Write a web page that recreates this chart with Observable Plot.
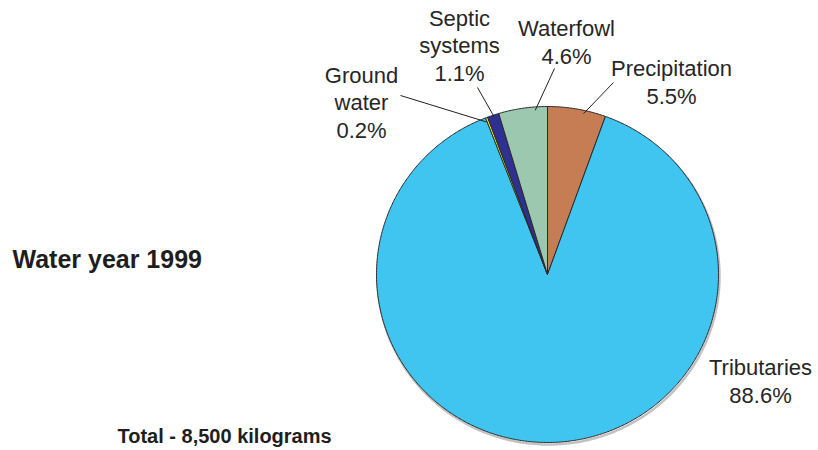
<!DOCTYPE html>
<html>
<head>
<meta charset="utf-8">
<script src="https://cdn.jsdelivr.net/npm/d3@7"></script>
<script src="https://cdn.jsdelivr.net/npm/@observablehq/plot@0.6"></script>
<style>
  html, body { margin: 0; padding: 0; background: #fff; }
  #chart { width: 818px; height: 450px; }
</style>
</head>
<body>
<div id="chart"></div>
<script>
// ---- Data (clockwise from 12 o'clock) ----
const sources = ["Precipitation", "Tributaries", "Ground water", "Septic systems", "Waterfowl"];
const percents = [5.5, 88.6, 0.2, 1.1, 4.6];
const labelText = ["Precipitation\n5.5%", "Tributaries\n88.6%", "Ground\nwater\n0.2%", "Septic\nsystems\n1.1%", "Waterfowl\n4.6%"];
const colors = ["#C77D53", "#40C4F0", "#FFF200", "#2E3192", "#9CC8B0"];
const title = "Water year 1999";
const totalNote = "Total - 8,500 kilograms";

// ---- Layout (pixels) ----
const W = 818, H = 450;
const cx = 547, cy = 274, rx = 171, ry = 168;
// label placement: text x, last-line baseline y, leader-line outer end, inner angle (deg) & radius factor
const labelLayout = {
  "Precipitation": {tx: 671, ty: 103, lx: 613, ly: 82, a: 12.4, r: 0.98},
  "Tributaries":   {tx: 760, ty: 402},
  "Ground water":  {tx: 361, ty: 137, lx: 400, ly: 95, a: -21.4, r: 0.975},
  "Septic systems":{tx: 459, ty: 80,  lx: 477, ly: 87, a: -18.4, r: 0.99},
  "Waterfowl":     {tx: 566, ty: 63,  lx: 554, ly: 68, a: -4.2, r: 0.98}
};

const px = (deg, f = 1) => cx + rx * f * Math.sin(deg * Math.PI / 180);
const py = (deg, f = 1) => cy - ry * f * Math.cos(deg * Math.PI / 180);

const arcs = d3.pie().sort(null).value(d => d.value)(sources.map((s, i) => ({name: s, value: percents[i]})));
const slicePts = [];
for (const a of arcs) {
  const s = a.startAngle * 180 / Math.PI, e = a.endAngle * 180 / Math.PI;
  slicePts.push({name: a.data.name, x: cx, y: cy});
  const n = Math.max(2, Math.ceil((e - s) / 0.5));
  for (let k = 0; k <= n; k++) {
    const t = s + (e - s) * k / n;
    slicePts.push({name: a.data.name, x: px(t), y: py(t)});
  }
  slicePts.push({name: a.data.name, x: cx, y: cy});
}
const ring = d3.range(0, 361, 1).map(t => ({x: px(t), y: py(t)}));

const labels = sources.map((s, i) => ({name: s, text: labelText[i], ...labelLayout[s]}));
const leaders = labels.filter(d => d.lx !== undefined).map(d => ({
  x1: d.lx, y1: d.ly, x2: px(d.a, d.r), y2: py(d.a, d.r)
}));

const font = "'Liberation Sans', Arial, Helvetica, sans-serif";

const chart = Plot.plot({
  width: W, height: H,
  margin: 0,
  x: {domain: [0, W], range: [0, W], axis: null},
  y: {domain: [0, H], range: [0, H], axis: null},
  color: {domain: sources, range: colors, legend: false},
  style: {fontFamily: font, background: "#fff"},
  marks: [
    // soft shadow of the pie outline
    Plot.line(ring, {x: "x", y: "y", stroke: "#999", strokeWidth: 2.5, strokeOpacity: 0.6, dx: 1, dy: 2}),
    Plot.line(slicePts, {x: "x", y: "y", z: "name", fill: "name", stroke: "#2a2a2a", strokeWidth: 1, strokeLinejoin: "round"}),
    Plot.link(leaders, {x1: "x1", y1: "y1", x2: "x2", y2: "y2", stroke: "#222", strokeWidth: 1}),
    Plot.text(labels, {x: "tx", y: "ty", text: "text", lineAnchor: "bottom", lineHeight: 1.23, fontSize: 22, fill: "#262626", textAnchor: "middle"}),
    Plot.text([title], {x: () => 12, y: () => 267, text: d => d, textAnchor: "start", lineAnchor: "bottom", fontSize: 25, fontWeight: "bold", fill: "#1e1e1e"}),
    Plot.text([totalNote], {x: () => 117, y: () => 442, text: d => d, textAnchor: "start", lineAnchor: "bottom", fontSize: 20, fontWeight: "bold", fill: "#1e1e1e"})
  ]
});
document.getElementById("chart").appendChild(chart);
</script>
</body>
</html>
